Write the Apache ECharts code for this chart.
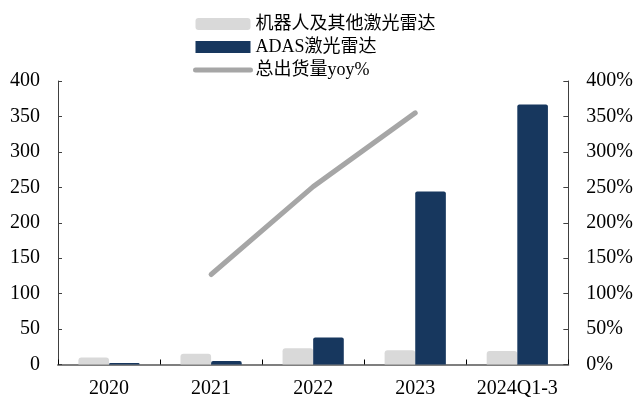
<!DOCTYPE html>
<html>
<head>
<meta charset="utf-8">
<script src="https://cdn.jsdelivr.net/npm/echarts@6/dist/echarts.min.js"></script>
<style>
  html, body { margin: 0; padding: 0; background: #fff; }
  #chart { width: 636px; height: 401px; }
</style>
</head>
<body>
<div id="chart"></div>
<script>
// Lidar shipments by year (units on left axis), with total shipment growth (right axis, %)
const categories = ['2020', '2021', '2022', '2023', '2024Q1-3'];
const robotOther = [10, 15, 23, 20, 19];        // 机器人及其他激光雷达
const adasLidar = [2, 5, 38, 244, 367];         // ADAS激光雷达
const totalYoy = [null, 127, 251, 355, null];   // 总出货量yoy%

const serif = '"Liberation Serif", "Times New Roman", "Noto Sans CJK SC", serif';

const chart = echarts.init(document.getElementById('chart'), null, { renderer: 'canvas' });

chart.setOption({
  animation: false,
  backgroundColor: '#ffffff',
  textStyle: { fontFamily: serif },
  legend: {
    orient: 'vertical',
    left: 188,
    top: 10,
    itemWidth: 55,
    itemHeight: 12,
    itemGap: 5,
    textStyle: { fontSize: 18, color: '#000', fontFamily: serif },
    data: [
      { name: '机器人及其他激光雷达', icon: 'roundRect' },
      { name: 'ADAS激光雷达', icon: 'rect' },
      {
        name: '总出货量yoy%',
        itemStyle: { opacity: 0 },
        lineStyle: { width: 5, cap: 'round', color: '#a6a6a6' }
      }
    ]
  },
  grid: { left: 58, right: 66, top: 81, bottom: 36.5, containLabel: false },
  xAxis: {
    type: 'category',
    data: categories,
    axisLine: { lineStyle: { color: '#7f7f7f', width: 2 } },
    axisTick: { show: true, inside: true, length: 5, lineStyle: { color: '#000' } },
    axisLabel: { fontSize: 20, color: '#000', margin: 14, interval: 0, fontFamily: serif }
  },
  yAxis: [
    {
      type: 'value', min: 0, max: 400, interval: 50,
      splitLine: { show: false },
      axisLine: { show: true, lineStyle: { color: '#404040', width: 1 } },
      axisTick: { show: true, inside: true, length: 4, lineStyle: { color: '#404040' } },
      axisLabel: { fontSize: 20, color: '#000', margin: 18, fontFamily: serif }
    },
    {
      type: 'value', min: 0, max: 400, interval: 50,
      splitLine: { show: false },
      axisLine: { show: true, lineStyle: { color: '#404040', width: 1 } },
      axisTick: { show: true, inside: true, length: 5, lineStyle: { color: '#404040' } },
      axisLabel: { fontSize: 20, color: '#000', margin: 18, formatter: '{value}%', fontFamily: serif }
    }
  ],
  series: [
    {
      name: '机器人及其他激光雷达',
      type: 'bar',
      data: robotOther,
      barGap: '0%',
      barCategoryGap: '40%',
      itemStyle: { color: '#d9d9d9', borderRadius: [3, 3, 0, 0] }
    },
    {
      name: 'ADAS激光雷达',
      type: 'bar',
      data: adasLidar,
      barGap: '0%',
      barCategoryGap: '40%',
      itemStyle: { color: '#17375e', borderRadius: [2, 2, 0, 0] }
    },
    {
      name: '总出货量yoy%',
      type: 'line',
      yAxisIndex: 1,
      data: totalYoy,
      symbol: 'none',
      showSymbol: false,
      connectNulls: false,
      lineStyle: { color: '#a6a6a6', width: 5, cap: 'round', join: 'round' },
      itemStyle: { color: '#a6a6a6' },
      z: 5
    }
  ]
});
</script>
</body>
</html>
